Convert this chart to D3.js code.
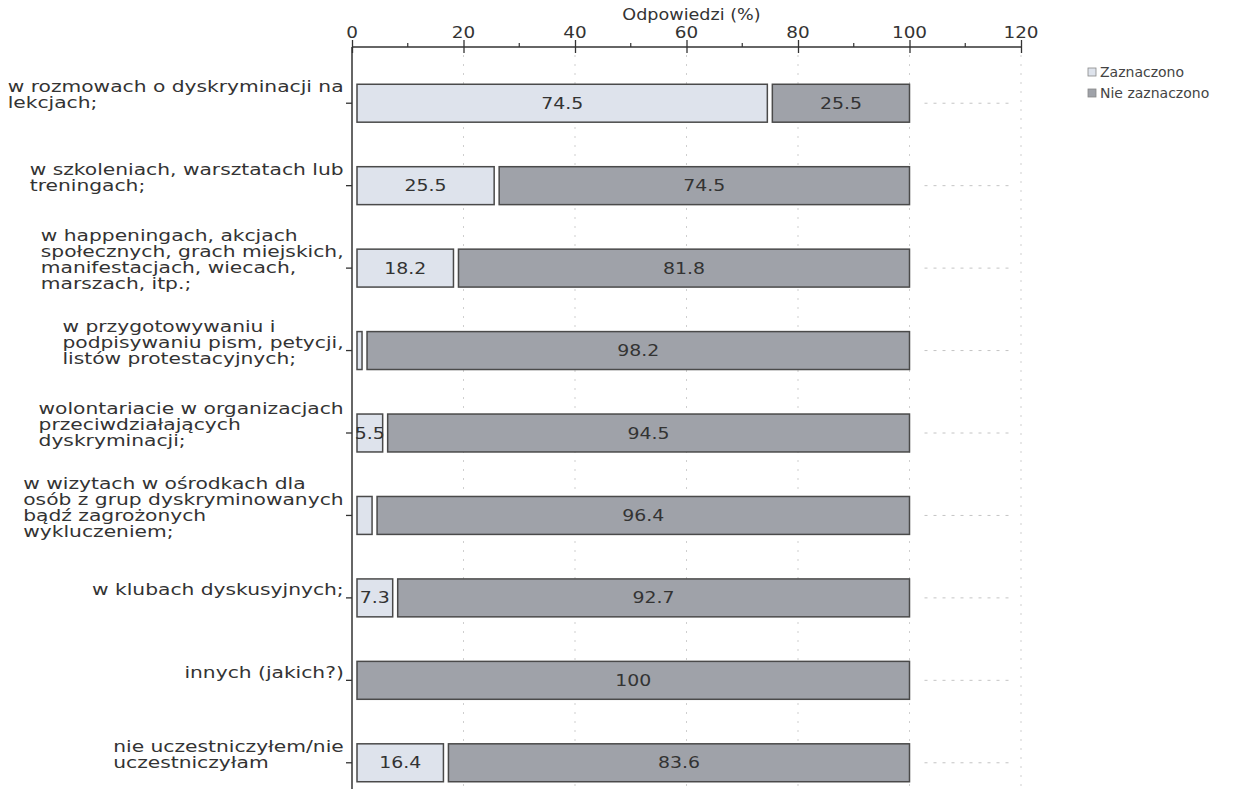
<!DOCTYPE html>
<html><head><meta charset="utf-8">
<script src="https://cdn.jsdelivr.net/npm/d3@7"></script>
<style>body{margin:0;background:#fff}svg{display:block}</style>
</head><body>
<svg id="c" width="1260" height="789"></svg>
<script>
const categories = [
  ["w rozmowach o dyskryminacji na","lekcjach;"],
  ["w szkoleniach, warsztatach lub","treningach;"],
  ["w happeningach, akcjach","społecznych, grach miejskich,","manifestacjach, wiecach,","marszach, itp.;"],
  ["w przygotowywaniu i","podpisywaniu pism, petycji,","listów protestacyjnych;"],
  ["wolontariacie w organizacjach","przeciwdziałających","dyskryminacji;"],
  ["w wizytach w ośrodkach dla","osób z grup dyskryminowanych","bądź zagrożonych","wykluczeniem;"],
  ["w klubach dyskusyjnych;"],
  ["innych (jakich?)"],
  ["nie uczestniczyłem/nie","uczestniczyłam"]
];
const zaznaczono = [74.5, 25.5, 18.2, 1.8, 5.5, 3.6, 7.3, 0, 16.4];
const nieZaznaczono = [25.5, 74.5, 81.8, 98.2, 94.5, 96.4, 92.7, 100, 83.6];
const seriesNames = ["Zaznaczono", "Nie zaznaczono"];
const xTicks = [0, 20, 40, 60, 80, 100, 120];
const axisTitle = "Odpowiedzi (%)";

const svg = d3.select("#c");
const font = "DejaVu Sans, Verdana, sans-serif";
const x = d3.scaleLinear().domain([0, 120]).range([352, 1021]);
const y = d3.scaleBand().domain(d3.range(categories.length)).range([62, 804]).paddingInner(0.54).paddingOuter(0.27);
const colors = ["#dee3ec", "#9fa2a9"];
const axisY = 47;
const mid = i => y(i) + y.bandwidth() / 2;

// stretched centered text helper
function stext(g, cx, cy, str, size, sx, fill) {
  return g.append("text")
    .attr("transform", `translate(${cx},${cy}) scale(${sx},1)`)
    .attr("text-anchor", "middle").attr("dy", "0.35em")
    .attr("font-family", font).attr("font-size", size).attr("fill", fill).text(str);
}

// gridlines
const grid = svg.append("g");
grid.selectAll("line.v").data(xTicks.slice(1)).join("line")
  .attr("x1", d => x(d)).attr("x2", d => x(d)).attr("y1", axisY + 8).attr("y2", 789)
  .attr("stroke", "#cfcfcf").attr("stroke-dasharray", "2,7");
grid.selectAll("line.h").data(d3.range(categories.length)).join("line")
  .attr("x1", x(100) + 15).attr("x2", x(120) - 12).attr("y1", mid).attr("y2", mid)
  .attr("stroke", "#c4c4c4").attr("stroke-dasharray", "3,6");

// bars
const rows = categories.map((c, i) => [
  {s: 0, e: zaznaczono[i], k: 0, i},
  {s: zaznaczono[i], e: zaznaczono[i] + nieZaznaczono[i], k: 1, i}
]).flat().filter(d => d.e - d.s > 0);
svg.append("g").selectAll("rect").data(rows).join("rect")
  .attr("x", d => x(d.s) + 5)
  .attr("y", d => y(d.i))
  .attr("width", d => Math.max(1.5, x(d.e) - x(d.s) - 5))
  .attr("height", y.bandwidth())
  .attr("fill", d => colors[d.k])
  .attr("stroke", "#4a4a4a").attr("stroke-width", 1.5);

const vl = svg.append("g");
rows.filter(d => d.e - d.s >= 5).forEach(d => {
  stext(vl, (x(d.s) + 5 + x(d.e)) / 2, mid(d.i), d3.format("~g")(+(d.e - d.s).toFixed(1)), 16, 1.18, "#333");
});

// top axis
const xAxis = svg.append("g").attr("transform", `translate(0,${axisY})`)
  .call(d3.axisTop(x).tickValues(xTicks).tickSize(7).tickFormat(""));
xAxis.select(".domain").remove();
xAxis.selectAll(".tick line").attr("y2", 6).attr("y1", -7).attr("stroke", "#333").attr("stroke-width", 1.3);
const tl = svg.append("g");
xTicks.forEach(t => stext(tl, x(t), 32, d3.format("d")(t), 16, 1.15, "#333"));
svg.append("line").attr("x1", x(0)).attr("x2", x(120)).attr("y1", axisY).attr("y2", axisY).attr("stroke", "#333").attr("stroke-width", 1.5);
svg.append("g").selectAll("line").data(d3.range(10, 120, 20)).join("line")
  .attr("x1", d => x(d)).attr("x2", d => x(d)).attr("y1", axisY - 4).attr("y2", axisY)
  .attr("stroke", "#333").attr("stroke-width", 1.2);
stext(svg, x(60) + 5, 14, axisTitle, 16, 1.1, "#333");

// y axis
svg.append("line").attr("x1", x(0)).attr("x2", x(0)).attr("y1", axisY).attr("y2", 789).attr("stroke", "#333").attr("stroke-width", 1.5);
svg.append("g").selectAll("line").data(d3.range(categories.length)).join("line")
  .attr("x1", x(0) - 6).attr("x2", x(0)).attr("y1", mid).attr("y2", mid)
  .attr("stroke", "#333").attr("stroke-width", 1.3);

// category labels: left-aligned lines in a block right-aligned at the axis
const lh = 16, lsx = 1.35;
categories.forEach((lines, i) => {
  const g = svg.append("g");
  const cy = mid(i) - 8;
  const t = g.append("text").attr("font-family", font).attr("font-size", 15).attr("fill", "#333");
  lines.forEach((l, j) => t.append("tspan").attr("x", 0).attr("y", cy + (j - (lines.length - 1) / 2) * lh).attr("dy", "0.35em").text(l));
  const w = t.node().getBBox().width * lsx;
  g.attr("transform", `translate(${Math.max(3, 344 - w)},0) scale(${lsx},1)`);
});

// legend
const lg = svg.append("g").attr("transform", "translate(1088,72)");
seriesNames.forEach((n, k) => {
  lg.append("rect").attr("x", 0).attr("y", k * 21 - 4).attr("width", 8).attr("height", 8).attr("fill", colors[k]).attr("stroke", "#888").attr("stroke-width", 0.8);
  lg.append("text").attr("x", 12).attr("y", k * 21).attr("dy", "0.35em").attr("font-family", font).attr("font-size", 14).attr("fill", "#444").text(n);
});
</script>
</body></html>
